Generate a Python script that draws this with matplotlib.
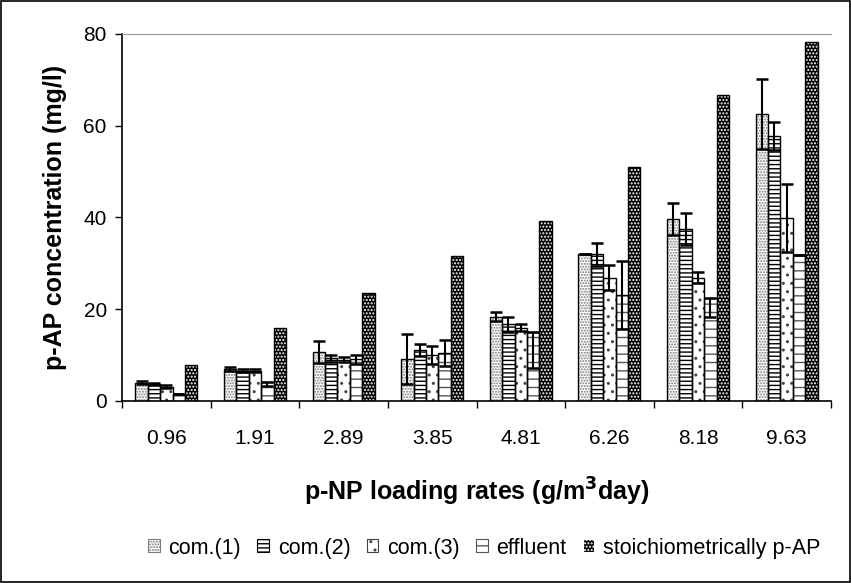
import numpy as np
import matplotlib
matplotlib.use("Agg")
import matplotlib.pyplot as plt
from matplotlib.patches import Patch, Rectangle

plt.rcParams['font.family'] = ['Liberation Sans', 'DejaVu Sans']

# --- data ---
rates = ["0.96", "1.91", "2.89", "3.85", "4.81", "6.26", "8.18", "9.63"]

com1 = [4.0, 7.0, 10.6, 9.1, 18.4, 32.0, 39.6, 62.5]
com1_err = [0.3, 0.4, 2.4, 5.5, 1.0, 0.0, 3.5, 7.6]

com2 = [3.7, 6.6, 9.3, 11.1, 16.7, 32.0, 37.4, 57.8]
com2_err = [0.2, 0.3, 0.8, 1.4, 1.7, 2.5, 3.5, 3.0]

com3 = [3.1, 6.6, 9.0, 10.0, 16.0, 26.9, 26.9, 39.9]
com3_err = [0.3, 0.3, 0.5, 2.0, 0.7, 2.8, 1.2, 7.4]

effluent = [1.6, 4.1, 9.1, 10.5, 15.0, 23.0, 22.5, 31.9]
effluent_err_lo = [0.0, 0.8, 1.0, 2.8, 7.9, 7.3, 4.1, 0.0]
effluent_err_hi = [0.0, 0.0, 1.0, 2.8, 0.0, 7.6, 0.0, 0.0]

stoich = [7.9, 16.0, 23.6, 31.6, 39.3, 51.0, 66.7, 78.2]

labels = ["com.(1)", "com.(2)", "com.(3)", "effluent", "stoichiometrically p-AP"]

fig = plt.figure(figsize=(8.51, 5.83), dpi=100)
ax = fig.add_axes([0.1434, 0.3122, 0.8331, 0.6295])

x = np.arange(len(rates))
w = 0.14
offsets = [-2 * w, -w, 0, w, 2 * w]

# (face, hatch colour, hatch) per series
styles = [
    ("white", "#7a7a7a", "......"),
    ("white", "black", "----"),
    ("white", "#444444", ".."),
    ("white", "#555555", "--"),
    ("black", "white", "....."),
]
series = [com1, com2, com3, effluent, stoich]

for vals, off, (fc, hc, h) in zip(series, offsets, styles):
    ax.bar(x + off, vals, w, facecolor=fc, edgecolor=hc, hatch=h, linewidth=0, zorder=2)
    ax.bar(x + off, vals, w, fill=False, edgecolor="black", linewidth=1.0, zorder=3)

errs = [com1_err, com2_err, com3_err, [effluent_err_lo, effluent_err_hi]]
for vals, off, e in zip(series[:4], offsets[:4], errs):
    ax.errorbar(x + off, vals, yerr=e, fmt="none", ecolor="black",
                elinewidth=1.5, capsize=4.5, capthick=1.8, zorder=4)

ax.set_xlim(-0.5, len(rates) - 0.5)
ax.set_ylim(0, 80)
ax.set_yticks([0, 20, 40, 60, 80])
ax.set_xticks(x)
ax.set_xticklabels(rates)
ax.set_xticks(np.arange(len(rates) + 1) - 0.5, minor=True)
ax.tick_params(axis="x", which="major", length=0, labelsize=15, pad=20)
ax.tick_params(axis="x", which="minor", length=5, width=1, direction="out")
ax.tick_params(axis="y", length=5, width=1, labelsize=15, pad=6)

ax.spines["right"].set_visible(False)
ax.spines["top"].set_color("#999999")
ax.spines["left"].set_linewidth(1.2)
ax.spines["bottom"].set_linewidth(1.2)

ax.set_ylabel("p-AP concentration (mg/l)", fontsize=18, fontweight="bold", labelpad=12)
ax.set_xlabel("p-NP loading rates (g/m$^{\\mathbf{3}}$day)", fontsize=18,
              fontweight="bold", labelpad=20)

handles = [Patch(facecolor=fc, edgecolor=hc, hatch=h, linewidth=0.8)
           for fc, hc, h in styles]
fig.legend(handles, labels, loc="center", bbox_to_anchor=(0.569, 0.06), ncol=5,
           frameon=False, fontsize=15.5, handlelength=0.55, handleheight=0.55,
           handletextpad=0.4, columnspacing=0.75)

# figure border
fig.patches.append(Rectangle((0.001, 0.001), 0.998, 0.998, transform=fig.transFigure,
                             fill=False, edgecolor="black", linewidth=1.2))

fig.savefig("out.png", dpi=100)
